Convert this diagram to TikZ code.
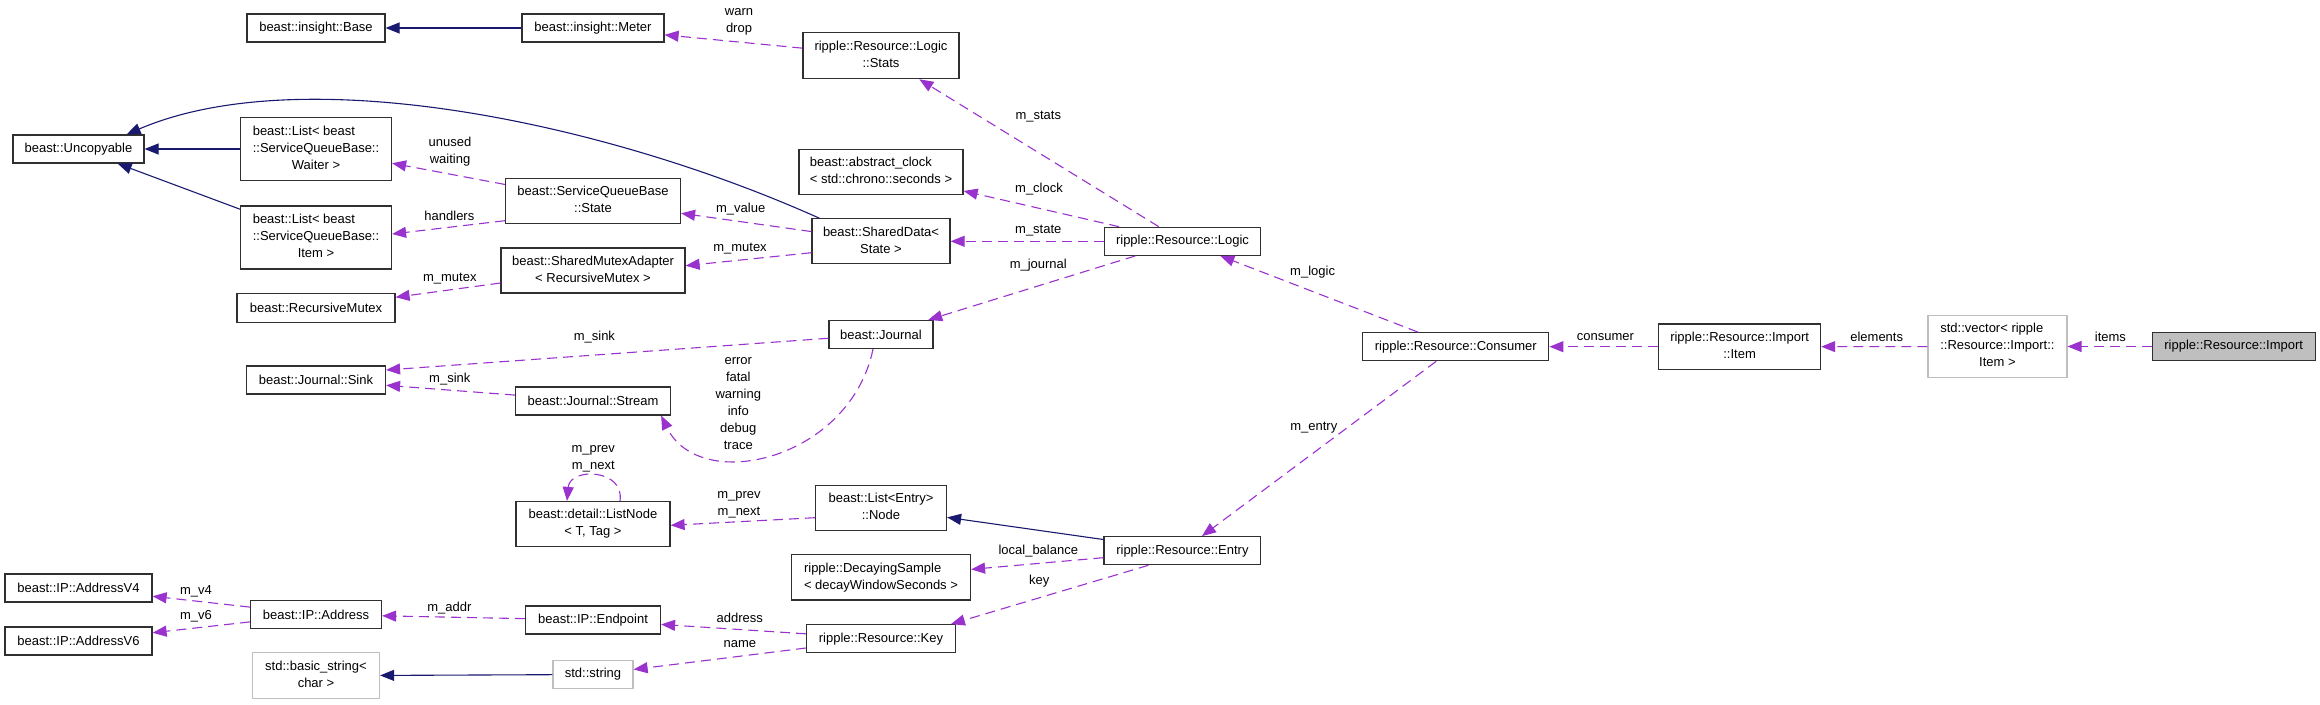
\documentclass[tikz,border=0pt]{standalone}
\usepackage{fontspec}
\setmainfont{Liberation Sans}
\usetikzlibrary{arrows.meta,calc}
\definecolor{purp}{HTML}{9A32CD}
\definecolor{navy}{HTML}{191970}
\definecolor{bord}{HTML}{303030}
\definecolor{lgray}{HTML}{BFBFBF}
\newcommand{\cl}[1]{\multicolumn{1}{@{}c@{}}{#1}}
\newcommand{\ml}[1]{\begin{tabular}{@{}l@{}}#1\end{tabular}}
\begin{document}
\begin{tikzpicture}[x=1pt,y=-1pt, font=\fontsize{13}{17}\selectfont,
 box/.style={draw=bord, line width=1.2pt, inner sep=0pt, align=center},
 gbox/.style={box, draw=lgray},
 lbl/.style={inner sep=0pt, align=center},
 mem/.style={draw=purp, line width=1.1pt, dash pattern=on 10pt off 6pt, -{Triangle[length=14pt,width=11pt]}},
 inh/.style={draw=navy, line width=1.1pt, -{Triangle[length=14pt,width=11pt]}}]

\useasboundingbox (0,0) rectangle (2320,704);

% column 1
\node[box, minimum width=131pt, minimum height=28pt] (unc) at (78.5,149) {beast::Uncopyable};
\node[box, minimum width=147pt, minimum height=28pt] (v4) at (78.5,588) {beast::IP::AddressV4};
\node[box, minimum width=147pt, minimum height=28pt] (v6) at (78.5,641) {beast::IP::AddressV6};
% column 2
\node[box, minimum width=138pt, minimum height=28pt] (base) at (316,28) {beast::insight::Base};
\node[box, minimum width=151pt, minimum height=63pt] (lwait) at (316,149) {\ml{beast::List< beast\\::ServiceQueueBase::\\\cl{Waiter >}}};
\node[box, minimum width=151pt, minimum height=63pt] (litem) at (316,237.5) {\ml{beast::List< beast\\::ServiceQueueBase::\\\cl{Item >}}};
\node[box, minimum width=158pt, minimum height=29pt] (rmx) at (316,308) {beast::RecursiveMutex};
\node[box, minimum width=139pt, minimum height=28pt] (sink) at (316,380) {beast::Journal::Sink};
\node[box, minimum width=131pt, minimum height=28pt] (addr) at (316,614.5) {beast::IP::Address};
\node[gbox, minimum width=127pt, minimum height=46pt] (bstr) at (316,675.7) {\ml{std::basic\_string<\\\cl{char >}}};
% column 3
\node[box, minimum width=142pt, minimum height=28pt] (meter) at (593,28) {beast::insight::Meter};
\node[box, minimum width=175pt, minimum height=45pt] (sqs) at (593,201) {\ml{beast::ServiceQueueBase\\\cl{::State}}};
\node[box, minimum width=184pt, minimum height=45pt] (sma) at (593,270.5) {\ml{beast::SharedMutexAdapter\\\cl{< RecursiveMutex >}}};
\node[box, minimum width=155pt, minimum height=28pt] (stream) at (593,401) {beast::Journal::Stream};
\node[box, minimum width=154pt, minimum height=45pt] (listnode) at (593,524) {\ml{beast::detail::ListNode\\\cl{< T, Tag >}}};
\node[box, minimum width=135pt, minimum height=28pt] (endpoint) at (593,620) {beast::IP::Endpoint};
\node[gbox, minimum width=80pt, minimum height=28pt] (str) at (593,674.5) {std::string};
% column 4
\node[box, minimum width=156pt, minimum height=46pt] (stats) at (881,55.7) {\ml{ripple::Resource::Logic\\\cl{::Stats}}};
\node[box, minimum width=164pt, minimum height=45pt] (aclock) at (881,172) {\ml{beast::abstract\_clock\\\cl{< std::chrono::seconds >}}};
\node[box, minimum width=138pt, minimum height=45pt] (shared) at (881,241.3) {\ml{beast::SharedData<\\\cl{State >}}};
\node[box, minimum width=104pt, minimum height=28pt] (journal) at (881,334.5) {beast::Journal};
\node[box, minimum width=131pt, minimum height=45.5pt] (enode) at (881,508) {\ml{beast::List<Entry>\\\cl{::Node}}};
\node[box, minimum width=179pt, minimum height=45.5pt] (decay) at (881,577.3) {\ml{ripple::DecayingSample\\\cl{< decayWindowSeconds >}}};
\node[box, minimum width=148.6pt, minimum height=28pt] (key) at (881,638.7) {ripple::Resource::Key};
% column 5
\node[box, minimum width=156pt, minimum height=28pt] (logic) at (1182.5,241.3) {ripple::Resource::Logic};
\node[box, minimum width=156.7pt, minimum height=28pt] (entry) at (1182.4,550.7) {ripple::Resource::Entry};
% right columns
\node[box, minimum width=186pt, minimum height=28pt] (consumer) at (1455.8,346.7) {ripple::Resource::Consumer};
\node[box, minimum width=162pt, minimum height=45.3pt] (imitem) at (1739.6,346.7) {\ml{ripple::Resource::Import\\\cl{::Item}}};
\node[gbox, minimum width=139pt, minimum height=62.4pt] (vec) at (1997.4,346.5) {\ml{std::vector< ripple\\::Resource::Import::\\\cl{Item >}}};
\node[box, fill=lgray, minimum width=163pt, minimum height=28.4pt] (import) at (2233.7,346.5) {ripple::Resource::Import};

% inheritance edges
\draw[inh] (meter) -- (base);
\draw[inh] (lwait) -- (unc);
\draw[inh] (litem) -- (unc);
\draw[inh] ($(shared.north west)+(8,0)$) .. controls (600,120) and (300,60) .. ($(unc.north east)+(-18,0)$);
\draw[inh] (entry) -- (enode);
\draw[inh] (str) -- (bstr);

% member edges
\draw[mem] (stats) -- (meter);
\draw[mem] (sqs) -- (lwait);
\draw[mem] ($(sqs.west)+(0,19.7)$) -- ($(litem.east)+(0,-3.5)$);
\draw[mem] (shared) -- (sqs);
\draw[mem] ($(shared.west)+(0,11.4)$) -- ($(sma.east)+(0,-4.8)$);
\draw[mem] (sma) -- (rmx);
\draw[mem] (journal) -- ($(sink.east)+(0,-10)$);
\draw[mem] (stream) -- (sink);
\draw[mem] ($(journal.south)+(-8,0)$) .. controls (850,460) and (700,495) .. ($(stream.south east)+(-10,0)$);
\draw[mem] ($(listnode.north)+(27,0)$) .. controls ($(listnode.north)+(32,-32)$) and ($(listnode.north)+(-23,-34)$) .. ($(listnode.north)+(-26,0)$);
\draw[mem] ($(enode.west)+(0,9.7)$) -- ($(listnode.east)+(0,1.3)$);
\draw[mem] (entry) -- (decay);
\draw[mem] ($(entry.south)+(-34,0)$) -- ($(key.north east)+(-5,0)$);
\draw[mem] (key) -- (endpoint);
\draw[mem] (key) -- (str);
\draw[mem] (endpoint) -- (addr);
\draw[mem] (addr) -- (v4);
\draw[mem] (addr) -- (v6);
\draw[mem] (logic) -- (stats);
\draw[mem] (logic) -- (aclock);
\draw[mem] (logic) -- (shared);
\draw[mem] (logic) -- (journal);
\draw[mem] (consumer) -- (logic);
\draw[mem] (consumer) -- (entry);
\draw[mem] (imitem) -- (consumer);
\draw[mem] (vec) -- (imitem);
\draw[mem] (import) -- (vec);

% labels
\node[lbl] (l1) at (739,21.7) {warn\\drop};
\node[lbl] (l2) at (450,151.3) {unused\\waiting};
\node[lbl] (l3) at (449.4,215.7) {handlers};
\node[lbl] (l4) at (740.7,209) {m\_value};
\node[lbl] (l5) at (740,248.7) {m\_mutex};
\node[lbl] (l6) at (449.8,279) {m\_mutex};
\node[lbl] (l7) at (594.4,336.7) {m\_sink};
\node[lbl] (l8) at (449.8,379.3) {m\_sink};
\node[lbl] (l9) at (738.3,404) {error\\fatal\\warning\\info\\debug\\trace};
\node[lbl] (l10) at (593.3,459) {m\_prev\\m\_next};
\node[lbl] (l11) at (739,504.3) {m\_prev\\m\_next};
\node[lbl] (l12) at (1038.3,550.7) {local\_balance};
\node[lbl] (l13) at (1039.3,580.7) {key};
\node[lbl] (l14) at (739.8,618.3) {address};
\node[lbl] (l15) at (739.8,644.3) {name};
\node[lbl] (l16) at (449.4,607.7) {m\_addr};
\node[lbl] (l17) at (196,591) {m\_v4};
\node[lbl] (l18) at (196,616.7) {m\_v6};
\node[lbl] (l19) at (1038.3,116.7) {m\_stats};
\node[lbl] (l20) at (1039,188.7) {m\_clock};
\node[lbl] (l21) at (1038.3,231) {m\_state};
\node[lbl] (l22) at (1038.3,264.7) {m\_journal};
\node[lbl] (l23) at (1312.6,272.3) {m\_logic};
\node[lbl] (l24) at (1313.8,427.7) {m\_entry};
\node[lbl] (l25) at (1605.4,336.7) {consumer};
\node[lbl] (l26) at (1876.7,336.7) {elements};
\node[lbl] (l27) at (2110.4,336.7) {items};
\end{tikzpicture}
\end{document}
